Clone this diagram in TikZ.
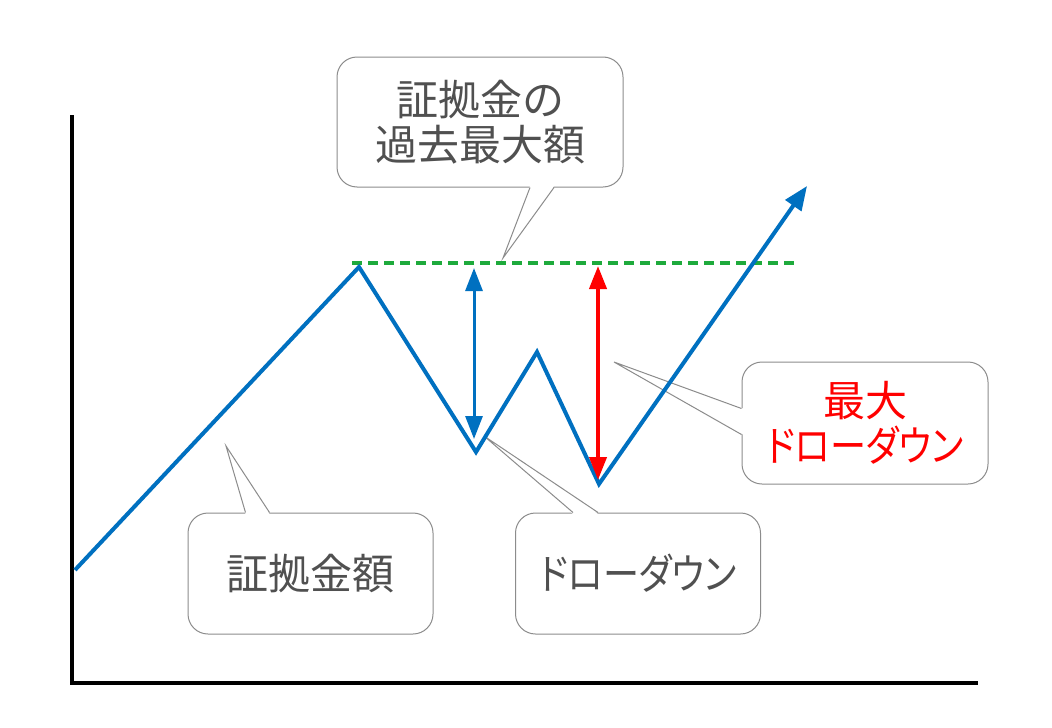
\documentclass[tikz,border=0pt]{standalone}
\usepackage{fontspec}
\usepackage{tikz}
\usepackage{xcolor}
\usetikzlibrary{arrows.meta,calc}
\newfontfamily\jpfont[RawFeature=+palt]{Noto Sans CJK JP}
\newfontfamily\kanafont[RawFeature=+palt,FakeStretch=0.86]{Noto Sans CJK JP}
\definecolor{lineblue}{RGB}{0,112,192}
\definecolor{peakgreen}{RGB}{30,170,60}
\definecolor{boxgray}{RGB}{140,140,140}
\definecolor{textgray}{RGB}{80,80,80}
\tikzset{
  callout/.style={draw=boxgray, line width=1pt, fill=white, rounded corners=20pt,
    minimum width=245pt, minimum height=121pt, inner sep=0pt, align=center,
    text=textgray, font=\jpfont\fontsize{42}{45}\selectfont},
  pointer/.style={draw=boxgray, line width=1pt},
  gap/.style={line width=3pt, {Triangle[length=23pt,width=17pt]}-{Triangle[length=23pt,width=17pt]}}
}
\begin{document}
\begin{tikzpicture}[x=1pt,y=-1pt]
    \useasboundingbox[fill=white] (0,0) rectangle (1052,728);
    % callouts
    \node[callout, minimum width=286pt, minimum height=130pt] (hist) at (480,122) {証拠金の\\過去最大額};
    \node[callout] (bal) at (310.5,573.5) {証拠金額};
    \node[callout] (dd) at (638,573.5) {\kanafont ドローダウン};
    \node[callout, text=red, minimum width=246pt, minimum height=122pt] (maxdd) at (865,423) {最大\\{\kanafont ドローダウン}};
    \coordinate (histtip) at (503,258);
    \coordinate (baltip) at (226,446);
    \coordinate (ddtip) at (484,436);
    \coordinate (maxddtip) at (614,362);
    \fill[white] ($(hist.south)+(50,-1.5)$) -- (histtip) -- ($(hist.south)+(74,-1.5)$) -- cycle;
    \draw[pointer] ($(hist.south)+(50,0)$) -- (histtip) -- ($(hist.south)+(74,0)$);
    \fill[white] ($(bal.north west)+(58,1.5)$) -- (baltip) -- ($(bal.north west)+(82,1.5)$) -- cycle;
    \draw[pointer] ($(bal.north west)+(58,0)$) -- (baltip) -- ($(bal.north west)+(82,0)$);
    \fill[white] ($(dd.north west)+(58,1.5)$) -- (ddtip) -- ($(dd.north west)+(83,1.5)$) -- cycle;
    \draw[pointer] ($(dd.north west)+(58,0)$) -- (ddtip) -- ($(dd.north west)+(83,0)$);
    \fill[white] ($(maxdd.north west)+(1.5,47)$) -- (maxddtip) -- ($(maxdd.north west)+(1.5,73)$) -- cycle;
    \draw[pointer] ($(maxdd.north west)+(0,47)$) -- (maxddtip) -- ($(maxdd.north west)+(0,73)$);
    % axes
    \draw[line width=4pt] (72,115) -- (72,683) -- (978,683);
    % past maximum
    \draw[peakgreen, line width=3.5pt, dash pattern=on 10pt off 6pt] (352,263) -- (798,263);
    % balance
    \coordinate (start) at (75,570);
    \coordinate (peak) at (359,267);
    \coordinate (low1) at (476,452);
    \coordinate (high2) at (537,352);
    \coordinate (low2) at (599,484);
    \coordinate (finish) at (807,186);
    \draw[lineblue, line width=4pt, -{Triangle[length=24pt,width=19pt]}] (start) -- (peak) -- (low1) -- (high2) -- (low2) -- (finish);
    % drawdowns
    \coordinate (gap1top) at (474,268);
    \coordinate (gap1bot) at (474,439);
    \coordinate (gap2top) at (598,266);
    \coordinate (gap2bot) at (598,480);
    \draw[gap, lineblue] (gap1top) -- (gap1bot);
    \draw[gap, red, line width=4pt] (gap2top) -- (gap2bot);
\end{tikzpicture}
\end{document}
